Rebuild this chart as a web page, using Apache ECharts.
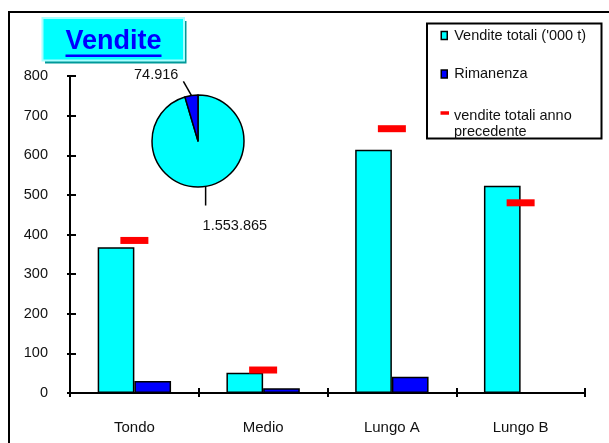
<!DOCTYPE html>
<html>
<head>
<meta charset="utf-8">
<script src="https://cdn.jsdelivr.net/npm/echarts@6/dist/echarts.min.js"></script>
<style>
html,body{margin:0;padding:0;background:#fff;}
#chart{width:609px;height:443px;}
</style>
</head>
<body>
<div id="chart"></div>
<script>
const categories = ['Tondo', 'Medio', 'Lungo A', 'Lungo B'];
const venditeTotali = [368, 51, 614, 523];
const rimanenza = [30, 12, 41, '-'];
const annoPrecedente = [385, 58, 667, 480];
const yMin = 0, yMax = 800, yInterval = 100;
const pieNames = ['Vendite totali', 'Rimanenza totale'];
const pieValues = [1553865, 74916];
const seriesNames = ["Vendite totali ('000 t)", 'Rimanenza', 'vendite totali anno precedente'];
const titleText = 'Vendite';

const FONT = '"Liberation Sans", Arial, sans-serif';
const TXT = '#111';

function itFormat(v) {
  return String(Math.round(v)).replace(/\B(?=(\d{3})+(?!\d))/g, '.');
}

const chart = echarts.init(document.getElementById('chart'), null, {renderer: 'canvas'});

const gridBox = {left: 70, top: 76, width: 515, height: 317};

const option = {
  animation: false,
  backgroundColor: '#fff',
  grid: [Object.assign({}, gridBox), Object.assign({}, gridBox)],
  xAxis: [
    {
      type: 'category', gridIndex: 0, data: categories,
      axisLine: {show: true, lineStyle: {color: '#000', width: 2}},
      axisTick: {show: true, inside: false, length: 4, interval: 0, lineStyle: {color: '#000', width: 2}},
      axisLabel: {margin: 27, fontSize: 15, color: TXT, fontFamily: FONT, interval: 0},
      splitLine: {show: false}
    },
    {
      type: 'category', gridIndex: 1, data: categories,
      axisLine: {show: false},
      axisTick: {show: true, inside: true, length: 5, interval: 0, lineStyle: {color: '#000', width: 2}},
      axisLabel: {show: false},
      splitLine: {show: false}
    }
  ],
  yAxis: [
    {
      type: 'value', gridIndex: 0, min: yMin, max: yMax, interval: yInterval,
      axisLine: {show: true, lineStyle: {color: '#000', width: 2}},
      axisTick: {show: true, inside: false, length: 3, lineStyle: {color: '#000', width: 2}},
      axisLabel: {margin: 22, fontSize: 14.5, color: TXT, fontFamily: FONT},
      splitLine: {show: false}
    },
    {
      type: 'value', gridIndex: 1, min: yMin, max: yMax, interval: yInterval,
      axisLine: {show: false},
      axisTick: {show: true, inside: true, length: 6, lineStyle: {color: '#000', width: 2}},
      axisLabel: {show: false},
      splitLine: {show: false}
    }
  ],
  legend: [
    {
      data: [{name: seriesNames[0], icon: 'rect', itemStyle: {color: '#00FFFF', borderColor: '#000', borderWidth: 1.5}}],
      left: 440.5, top: 27.5, orient: 'vertical', padding: 0,
      itemWidth: 6, itemHeight: 8, itemGap: 0, selectedMode: false,
      textStyle: {fontSize: 14.5, color: TXT, fontFamily: FONT, lineHeight: 16, padding: [0, 0, 0, 2]}
    },
    {
      data: [{name: seriesNames[1], icon: 'rect', itemStyle: {color: '#0000FF', borderColor: '#000', borderWidth: 1.5}}],
      left: 440.5, top: 66, orient: 'vertical', padding: 0,
      itemWidth: 6, itemHeight: 8, itemGap: 0, selectedMode: false,
      textStyle: {fontSize: 14.5, color: TXT, fontFamily: FONT, lineHeight: 16, padding: [0, 0, 0, 2]}
    },
    {
      data: [{name: seriesNames[2], icon: 'rect', itemStyle: {color: '#FF0000', borderWidth: 0}}],
      left: 440.5, top: 92, orient: 'vertical', padding: 0,
      itemWidth: 8.5, itemHeight: 3.5, itemGap: 0, selectedMode: false,
      formatter: function (n) {
        const parts = n.split(' precedente');
        return '{e| }\n{t|' + parts[0] + '}\n{t|precedente}';
      },
      textStyle: {
        fontSize: 14.5, color: TXT, fontFamily: FONT,
        rich: {
          e: {fontSize: 10, lineHeight: 22},
          t: {fontSize: 14.5, color: TXT, fontFamily: FONT, lineHeight: 16}
        }
      }
    }
  ],
  graphic: {
    elements: [
      {type: 'rect', z: -10, shape: {x: 9, y: 12, width: 700, height: 500}, style: {fill: 'transparent', stroke: '#000', lineWidth: 2}},
      {type: 'rect', z: 1, shape: {x: 45, y: 21, width: 141.5, height: 42.5}, style: {fill: '#009999'}},
      {type: 'rect', z: 2, shape: {x: 42.5, y: 18, width: 141.5, height: 42.5}, style: {fill: '#00FFFF', stroke: '#A8FFFF', lineWidth: 2}},
      {type: 'text', z: 3, x: 113.5, y: 41.5, style: {text: titleText, fill: '#0000FF', font: 'bold 27px ' + FONT, align: 'center', verticalAlign: 'middle'}},
      {type: 'line', z: 3, shape: {x1: 65.5, y1: 55.8, x2: 161.5, y2: 55.8}, style: {stroke: '#0000FF', lineWidth: 2.5}},
      {type: 'rect', z: 1, shape: {x: 427, y: 23.5, width: 174.5, height: 115}, style: {fill: '#fff', stroke: '#000', lineWidth: 2}}
    ]
  },
  series: [
    {
      name: seriesNames[0], type: 'bar', xAxisIndex: 0, yAxisIndex: 0,
      data: venditeTotali, barWidth: '28.5%', barGap: '0%',
      itemStyle: {color: '#00FFFF', borderColor: '#000', borderWidth: 1.5},
      z: 2
    },
    {
      name: seriesNames[1], type: 'bar', xAxisIndex: 0, yAxisIndex: 0,
      data: rimanenza, barWidth: '28.5%', barGap: '0%',
      itemStyle: {color: '#0000FF', borderColor: '#000', borderWidth: 1.5},
      z: 2
    },
    {
      name: seriesNames[2], type: 'scatter', xAxisIndex: 0, yAxisIndex: 0,
      data: annoPrecedente, symbol: 'rect', symbolSize: [28, 7],
      itemStyle: {color: '#FF0000', opacity: 1},
      z: 5
    },
    {
      type: 'pie', center: [198, 141], radius: 46, startAngle: 90, clockwise: true,
      z: 6,
      data: pieValues.map(function (v, i) { return {name: pieNames[i], value: v}; }),
      itemStyle: {borderColor: '#000', borderWidth: 1.5},
      color: ['#00FFFF', '#0000FF'],
      label: {
        show: true, position: 'outside', fontSize: 14.5, color: TXT, fontFamily: FONT,
        formatter: function (p) { return itFormat(p.value); }
      },
      labelLine: {show: true, length: 12, length2: 0, smooth: false, lineStyle: {color: '#000', width: 1.5}},
      labelLayout: function (p) {
        const pts = p.labelLinePoints;
        if (!pts) return {};
        const s = pts[0];
        if (p.dataIndex === 0) {
          return {
            x: s[0] - 2, y: s[1] + 39, align: 'left', verticalAlign: 'middle',
            labelLinePoints: [[s[0] + 1, s[1]], [s[0] + 1, s[1] + 19], [s[0] + 1, s[1] + 19]]
          };
        }
        return {
          x: s[0] - 13, y: s[1] - 20, align: 'right', verticalAlign: 'middle',
          labelLinePoints: [s, [s[0] - 8, s[1] - 14], [s[0] - 8, s[1] - 14]]
        };
      },
      emphasis: {disabled: true}
    }
  ]
};

chart.setOption(option);
</script>
</body>
</html>
